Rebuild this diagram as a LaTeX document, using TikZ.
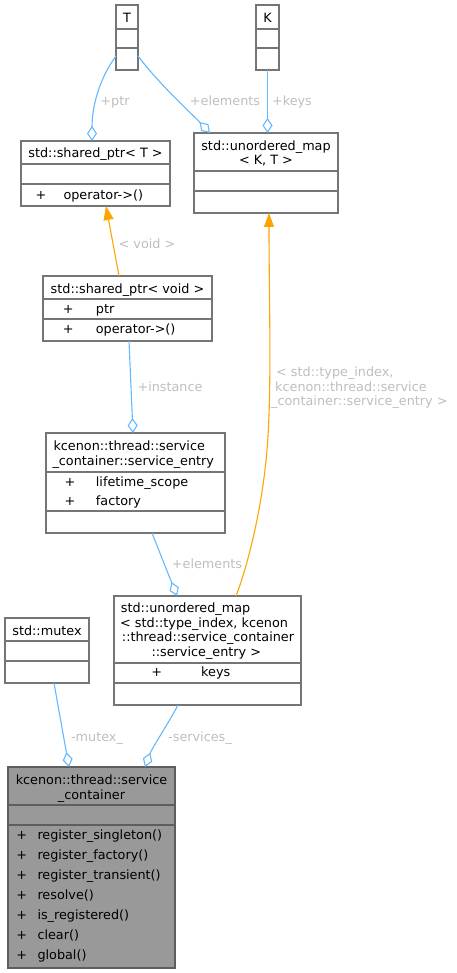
\documentclass[tikz,border=0pt]{standalone}
\usepackage{fontspec}
\newfontfamily\dv{DejaVu Sans}
\usetikzlibrary{arrows.meta,calc}
\definecolor{boxgray}{HTML}{757575}
\definecolor{lblgray}{HTML}{BEBEBE}
\definecolor{edgeblue}{HTML}{63B8FF}
\definecolor{edgeorange}{HTML}{FFA500}
\definecolor{focusfill}{HTML}{999999}
\tikzset{
  cls/.style={rectangle,draw=boxgray,line width=1.2pt,fill=white,inner sep=0pt,outer sep=0pt},
  divline/.style={draw=boxgray,line width=1.2pt},
  txt/.style={inner sep=0pt,yshift=-3pt,font=\dv\fontsize{12.8}{14.7}\selectfont,text=black},
  lbl/.style={inner sep=0pt,yshift=-3pt,font=\dv\fontsize{12.8}{14.7}\selectfont,text=lblgray},
  agg/.style={draw=edgeblue,line width=1.1pt,-{Diamond[open,length=15pt,width=10pt]}},
  tmpl/.style={draw=edgeorange,line width=1.1pt,-{Triangle[length=14pt,width=10pt]},edgeorange},
}
\begin{document}
\begin{tikzpicture}[x=1pt,y=-1pt]
\useasboundingbox (0,0) rectangle (457,973);
% ---------- class boxes ----------
\node[cls,minimum width=22pt,minimum height=65pt] (T) at (127,37.5) {};
\draw[divline] (116,29) -- (138,29) (116,48) -- (138,48);
\node[txt,anchor=mid] (Tt) at (127,17) {T};

\node[cls,minimum width=23pt,minimum height=65pt] (K) at (267.5,37.5) {};
\draw[divline] (256,29) -- (279,29) (256,48) -- (279,48);
\node[txt,anchor=mid] (Kt) at (267.5,17) {K};

\node[cls,minimum width=149pt,minimum height=65pt] (SPT) at (95.5,173.5) {};
\draw[divline] (21,164) -- (170,164) (21,184) -- (170,184);
\node[txt,anchor=mid] (SPTt) at (95.5,152) {std::shared\_ptr< T >};
\node[txt,anchor=mid] (SPTp) at (41,194.5) {+};
\node[txt,anchor=mid west] (SPTm) at (63.3,194.5) {operator->()};

\node[cls,minimum width=144pt,minimum height=80pt] (UMKT) at (266,173) {};
\draw[divline] (194,171) -- (338,171) (194,191) -- (338,191);
\node[txt,anchor=mid] (UMKTa) at (266,145) {std::unordered\_map};
\node[txt,anchor=mid] (UMKTb) at (266,159.5) {< K, T >};

\node[cls,minimum width=169pt,minimum height=65pt] (SPV) at (127.5,308.5) {};
\draw[divline] (43,299) -- (212,299) (43,319) -- (212,319);
\node[txt,anchor=mid] (SPVt) at (127.5,288) {std::shared\_ptr< void >};
\node[txt,anchor=mid] (SPVp1) at (68.3,308.5) {+};
\node[txt,anchor=mid west] (SPVa) at (95.7,308.5) {ptr};
\node[txt,anchor=mid] (SPVp2) at (68.3,328.5) {+};
\node[txt,anchor=mid west] (SPVm) at (95.7,328.5) {operator->()};

\node[cls,minimum width=179pt,minimum height=100pt] (SE) at (135.5,483) {};
\draw[divline] (46,472) -- (225,472) (46,511) -- (225,511);
\node[txt,anchor=mid west] (SEa) at (53.3,445.7) {kcenon::thread::service};
\node[txt,anchor=mid west] (SEb) at (52.3,460.2) {\_container::service\_entry};
\node[txt,anchor=mid] (SEp1) at (70,481) {+};
\node[txt,anchor=mid west] (SEl) at (95.7,481) {lifetime\_scope};
\node[txt,anchor=mid] (SEp2) at (70,500.5) {+};
\node[txt,anchor=mid west] (SEf) at (95.7,500.5) {factory};

\node[cls,minimum width=84pt,minimum height=65pt] (MUTEX) at (47,650.5) {};
\draw[divline] (5,641) -- (89,641) (5,661) -- (89,661);
\node[txt,anchor=mid] (MUTEXt) at (47,630) {std::mutex};

\node[cls,minimum width=187pt,minimum height=109pt] (UMTI) at (207.5,650.5) {};
\draw[divline] (114,663) -- (301,663) (114,683) -- (301,683);
\node[txt,anchor=mid west] (UMTIa) at (120.7,607.7) {std::unordered\_map};
\node[txt,anchor=mid west] (UMTIb) at (120,622.3) {< std::type\_index, kcenon};
\node[txt,anchor=mid] (UMTIc) at (208,636.8) {::thread::service\_container};
\node[txt,anchor=mid] (UMTId) at (206.3,651.3) {::service\_entry >};
\node[txt,anchor=mid] (UMTIp) at (156.7,671.5) {+};
\node[txt,anchor=mid west] (UMTIk) at (201,671.5) {keys};

\node[cls,fill=focusfill,draw=boxgray!80!black,minimum width=167pt,minimum height=201pt] (SC) at (91.5,867.5) {};
\draw[divline,draw=boxgray!80!black] (8,805) -- (175,805) (8,825) -- (175,825);
\node[txt,anchor=mid] (SCa) at (91.5,779.3) {kcenon::thread::service};
\node[txt,anchor=mid] (SCb) at (91.5,794) {\_container};
\foreach \yy/\nm/\tx in {834/m1/register\_singleton(),854.3/m2/register\_factory(),874/m3/register\_transient(),894.3/m4/resolve(),914.3/m5/is\_registered(),934/m6/clear(),954/m7/global()}{
  \node[txt,anchor=mid] (SCp\nm) at (21.7,\yy) {+};
  \node[txt,anchor=mid west] (SC\nm) at (37.3,\yy) {\tx};
}
% ---------- connectors ----------
\draw[agg] ($(T.south west)+(0,-14)$) .. controls (101,76) and (92,104) .. ($(SPT.north west)+(71,0)$);
\draw[agg] ($(T.south east)+(0,-14)$) .. controls (160,85) and (190,112) .. ($(UMKT.north west)+(16,0)$);
\draw[agg] (K.south) -- (K.south |- UMKT.north);
\draw[tmpl] ($(SPV.north west)+(76,0)$) -- ($(SPT.south west)+(85,0)$);
\draw[tmpl] ($(UMTI.north west)+(122,0)$) .. controls (247,568) and (262,510) .. (267,450) .. controls (272,390) and (269,300) .. ($(UMKT.south west)+(75,0)$);
\draw[agg] ($(SPV.south west)+(86,0)$) -- ($(SE.north west)+(87,0)$);
\draw[agg] ($(SE.south west)+(106,0)$) -- ($(UMTI.north west)+(63,0)$);
\draw[agg] ($(MUTEX.south west)+(49,0)$) -- ($(SC.north west)+(61,0)$);
\draw[agg] ($(UMTI.south west)+(64,0)$) .. controls (168,724) and (152,748) .. ($(SC.north west)+(137,0)$);
% ---------- edge labels ----------
\node[lbl,anchor=mid] (Lptr) at (115,100) {+ptr};
\node[lbl,anchor=mid] (Lel1) at (225,100) {+elements};
\node[lbl,anchor=mid] (Lkeys) at (292,100) {+keys};
\node[lbl,anchor=mid] (Lvoid) at (147,243.5) {< void >};
\node[lbl,anchor=mid] (Linst) at (170,386) {+instance};
\node[lbl,anchor=mid west] (Lta) at (276,371.7) {< std::type\_index,};
\node[lbl,anchor=mid west] (Ltb) at (275,386.2) {kcenon::thread::service};
\node[lbl,anchor=mid west] (Ltc) at (271,400.7) {\_container::service\_entry >};
\node[lbl,anchor=mid] (Lel2) at (207,563.5) {+elements};
\node[lbl,anchor=mid] (Lmut) at (97,736) {-mutex\_};
\node[lbl,anchor=mid] (Lsrv) at (200,736) {-services\_};
\end{tikzpicture}
\end{document}
